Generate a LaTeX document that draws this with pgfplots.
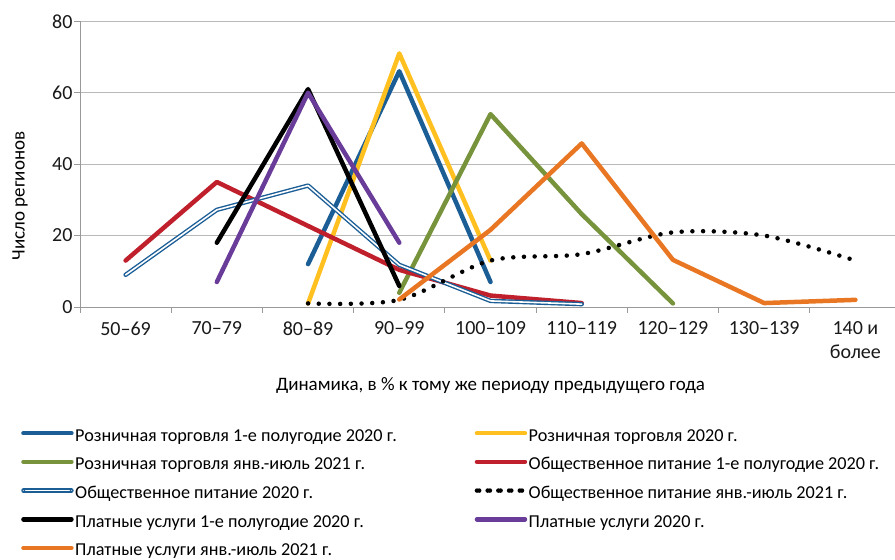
\documentclass[border=0pt]{standalone}
\usepackage{pgfplots}
\pgfplotsset{compat=1.18}
\usepackage{fontspec}
\setmainfont{Carlito}
\definecolor{cblue}{RGB}{27,94,150}
\definecolor{cyellow}{RGB}{255,192,32}
\definecolor{cgreen}{RGB}{119,147,60}
\definecolor{cred}{RGB}{192,32,44}
\definecolor{cpurple}{RGB}{106,60,154}
\definecolor{corange}{RGB}{232,118,34}
\newcommand{\lc}[1]{\makebox[398bp][l]{#1}}
\begin{document}
\begin{tikzpicture}[x=1bp,y=1bp]
\useasboundingbox (0,0) rectangle (895,560);
\begin{axis}[
  at={(80bp,253bp)}, anchor=south west,
  scale only axis, width=821bp, height=285.7bp,
  xmin=-0.5, xmax=8.5, ymin=0, ymax=80,
  axis x line*=bottom, axis y line*=left,
  axis line style={draw=gray!80, line width=0.8bp},
  ytick={0,20,40,60,80},
  ymajorgrids, grid style={draw=gray!55, line width=0.8bp},
  xtick={0,...,8},
  xticklabels={50–69,70–79,80–89,90–99,100–109,110–119,120–129,130–139,{140 и\\более}},
  minor xtick={-0.5,0.5,...,8.5},
  major x tick style={draw=none},
  tick align=outside, major tick length=6bp, minor tick length=6bp,
  tick style={draw=gray!80, line width=0.8bp},
  /pgf/number format/assume math mode=true,
  ticklabel style={font=\fontsize{20bp}{24bp}\selectfont, color=black!90},
  xticklabel style={align=center, anchor=north, yshift=-5bp},
  yticklabel style={anchor=east, xshift=2bp},
  xlabel={Динамика, в \% к тому же периоду предыдущего года},
  ylabel={Число регионов},
  label style={font=\fontsize{19bp}{22bp}\selectfont},
  xlabel style={at={(axis description cs:0.5,-0.2765)}, anchor=center},
  ylabel style={at={(axis description cs:-0.0731,0.389)}, anchor=center, rotate=0},
  legend columns=2,
  legend style={at={(axis description cs:-0.0755,-0.4235)}, anchor=north west,
    draw=none, fill=none, font=\fontsize{18.2bp}{22bp}\selectfont,
    row sep=14.7bp, column sep=0bp,
    nodes={inner xsep=1.5bp, inner ysep=0bp, text height=11bp, text depth=3bp, anchor=west}},
  legend cell align=left,
  legend image code/.code={\path (0bp,4bp) -- (48bp,4bp);\draw[#1] (2.25bp,4bp) -- (45.75bp,4bp);},
  every axis plot/.append style={line width=4.5bp, line join=round, line cap=round},
]
\addplot[cblue] coordinates {(2,12) (3,66) (4,7)};
\addlegendentry{\lc{Розничная торговля 1-е полугодие 2020 г.}}
\addplot[cyellow] coordinates {(2,1) (3,71) (4,13)};
\addlegendentry{Розничная торговля 2020 г.}
\addplot[cgreen] coordinates {(3,4) (4,54) (5,26) (6,1)};
\addlegendentry{\lc{Розничная торговля янв.-июль 2021 г.}}
\addplot[cred] coordinates {(0,13) (1,35) (2,22.7) (3,10.4) (4,3.2) (5,1.1)};
\addlegendentry{Общественное питание 1-е полугодие 2020 г.}
\addplot[cblue, line width=1.4bp, double=white, double distance=1.6bp] coordinates {(0,9) (1,27.2) (2,34) (3,11.8) (4,1.7) (5,0.8)};
\addlegendentry{\lc{Общественное питание 2020 г.}}
\addplot[black, line cap=round, line width=4.5bp, dash pattern=on 0bp off 10.7bp, smooth, tension=0.5] coordinates {(2,1) (3,2) (4,13) (5,14.8) (6,20.9) (7,20) (8,13)};
\addlegendentry{Общественное питание янв.-июль 2021 г.}
\addplot[black] coordinates {(1,18) (2,61) (3,5.9)};
\addlegendentry{\lc{Платные услуги 1-е полугодие 2020 г.}}
\addplot[cpurple] coordinates {(1,7) (2,60) (3,18)};
\addlegendentry{Платные услуги 2020 г.}
\addplot[corange] coordinates {(3,2.1) (4,21.6) (5,45.8) (6,13.2) (7,1.1) (8,2)};
\addlegendentry{\lc{Платные услуги янв.-июль 2021 г.}}
\end{axis}
\end{tikzpicture}
\end{document}
